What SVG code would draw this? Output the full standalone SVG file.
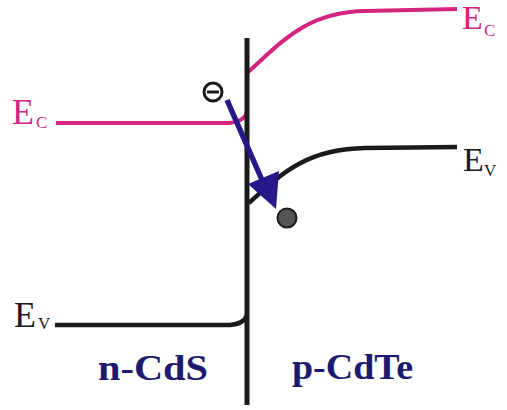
<svg xmlns="http://www.w3.org/2000/svg" width="507" height="410" viewBox="0 0 507 410">
<style>
.ec{fill:none;stroke:#d4247f;stroke-width:4;stroke-linecap:butt}
.ev{fill:none;stroke:#1a1a1a;stroke-width:4.5}
.lbl{font-family:"Liberation Serif",serif}
.mag{fill:#d4247f}
.blk{fill:#1a1a1a}
.mat{font-family:"Liberation Serif",serif;font-weight:bold;fill:#1c1a6e;font-size:35px}
</style>
<g id="connectors">
<path id="ec-left" class="ec" d="M56,123 L228,123 Q244,122 247,112"/>
<path id="ec-right" class="ec" d="M248,72 C280,44 305,12 365,11 L457,9"/>
<path id="ev-right" class="ev" d="M249,203 C280,175 305,149 365,148 L457,147"/>
<path id="ev-left" class="ev" d="M55,325 L230,325 Q244,324 247,315"/>
<line id="interface" x1="247" y1="38" x2="247" y2="405" stroke="#1a1a1a" stroke-width="5"/>
<path id="arrow" d="M227,100 L262,180" stroke="#25198a" stroke-width="5.5" fill="none"/>
<path id="arrowhead" d="M248,184 L279,171 L276,209 z" fill="#25198a"/>
</g>
<g id="electron">
<circle cx="213" cy="92" r="9" fill="#fff" stroke="#1a1a1a" stroke-width="3"/>
<line x1="207" y1="92" x2="219" y2="92" stroke="#1a1a1a" stroke-width="3"/>
</g>
<g id="hole">
<circle cx="287" cy="218" r="9.5" fill="#555" stroke="#1a1a1a" stroke-width="2"/>
</g>
<g id="label-ec-left">
<text class="lbl mag" x="12" y="124" font-size="36">E</text>
<text class="lbl mag" x="36" y="128" font-size="17">C</text>
</g>
<g id="label-ec-right">
<text class="lbl mag" x="462" y="29" font-size="34">E</text>
<text class="lbl mag" x="484" y="36" font-size="17">C</text>
</g>
<g id="label-ev-right">
<text class="lbl blk" x="463" y="171" font-size="34">E</text>
<text class="lbl blk" x="484" y="176" font-size="17">V</text>
</g>
<g id="label-ev-left">
<text class="lbl blk" x="14" y="327" font-size="36">E</text>
<text class="lbl blk" x="38" y="329" font-size="17">V</text>
</g>
<g id="label-ncds">
<text class="mat" x="98" y="380" textLength="110" lengthAdjust="spacingAndGlyphs">n-CdS</text>
</g>
<g id="label-pcdte">
<text class="mat" x="292" y="379" textLength="121" lengthAdjust="spacingAndGlyphs">p-CdTe</text>
</g>
</svg>
